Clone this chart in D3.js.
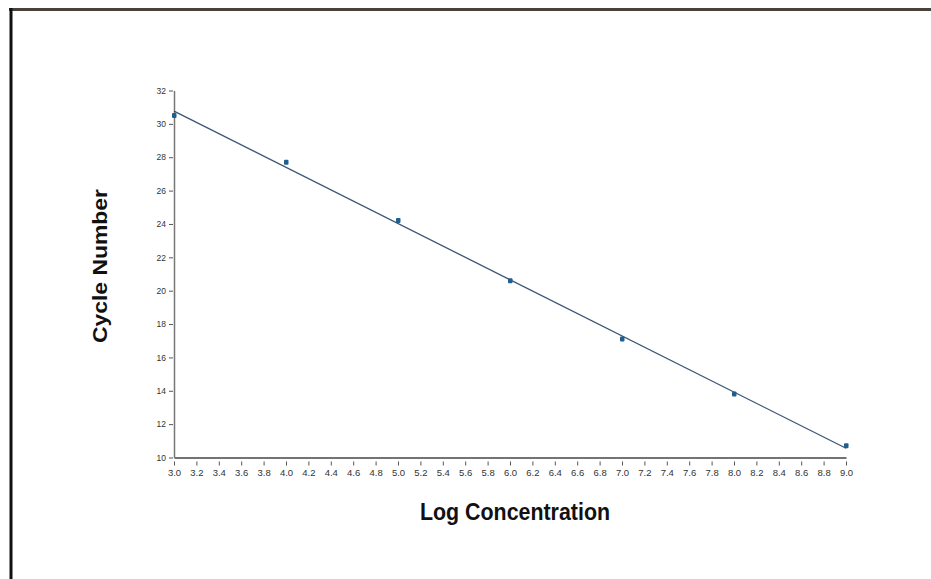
<!DOCTYPE html>
<html>
<head>
<meta charset="utf-8">
<script src="https://cdn.jsdelivr.net/npm/d3@7"></script>
<style>
  body { margin: 0; background: #fff; }
  svg { display: block; }
</style>
</head>
<body>
<div id="chart"></div>
<script>
// values
const logConc = [3.0, 4.0, 5.0, 6.0, 7.0, 8.0, 9.0];
const cycleNum = [30.5, 27.7, 24.2, 20.6, 17.1, 13.8, 10.7];
const xTicks = d3.range(30, 91, 2).map(d => d / 10);
const yTicks = [10, 12, 14, 16, 18, 20, 22, 24, 26, 28, 30, 32];

function drawChart() {
    const svg = d3.select("#chart")
        .append("svg")
        .attr("width", 931)
        .attr("height", 579);

    // page frame (top + left edges)
    svg.append("line")
        .attr("x1", 9).attr("x2", 931)
        .attr("y1", 9.5).attr("y2", 9.5)
        .attr("stroke", "#4a4238")
        .attr("stroke-width", 3);
    svg.append("line")
        .attr("x1", 11).attr("x2", 11)
        .attr("y1", 8).attr("y2", 579)
        .attr("stroke", "#111")
        .attr("stroke-width", 3);

    const x = d3.scaleLinear()
        .domain([3.0, 9.0])
        .range([174, 846]);

    const y = d3.scaleLinear()
        .domain([10, 32])
        .range([457.5, 90.5]);

    // x axis
    const xAxis = svg.append("g")
        .attr("transform", "translate(0,457.5)")
        .call(d3.axisBottom(x)
            .tickValues(xTicks)
            .tickFormat(d3.format(".1f"))
            .tickSizeInner(4)
            .tickSizeOuter(0)
            .tickPadding(8));
    xAxis.select(".domain").attr("stroke", "#444").attr("stroke-width", 1.5);
    xAxis.selectAll(".tick line").attr("stroke", "#555").attr("transform", "translate(0,4)");
    xAxis.selectAll("text")
        .style("font-family", "Liberation Sans, Arial, sans-serif")
        .style("font-size", "9.5px")
        .attr("fill", "#333");

    // y axis
    const yAxis = svg.append("g")
        .attr("transform", "translate(174,0)")
        .call(d3.axisLeft(y)
            .tickValues(yTicks)
            .tickSizeInner(4)
            .tickSizeOuter(0)
            .tickPadding(4));
    yAxis.select(".domain").attr("stroke", "#777").attr("stroke-width", 1.5);
    yAxis.selectAll(".tick line").attr("stroke", "#555").attr("transform", "translate(-1,0)");
    yAxis.selectAll("text")
        .style("font-family", "Liberation Sans, Arial, sans-serif")
        .style("font-size", "8.5px")
        .attr("fill", "#333");

    // least squares fit line through the points
    const mx = d3.mean(logConc), my = d3.mean(cycleNum);
    const slope = d3.sum(logConc, (v, i) => (v - mx) * (cycleNum[i] - my)) /
        d3.sum(logConc, v => (v - mx) * (v - mx));
    const fit = v => my + slope * (v - mx);

    svg.append("line")
        .attr("x1", x(3.0)).attr("y1", y(fit(3.0)))
        .attr("x2", x(9.0)).attr("y2", y(fit(9.0)))
        .attr("stroke", "#3b5676")
        .attr("stroke-width", 1.3);

    svg.selectAll(".dot")
        .data(logConc)
        .enter()
        .append("rect")
        .attr("class", "dot")
        .attr("x", d => x(d) - 2)
        .attr("y", (d, i) => y(cycleNum[i]) - 2.5)
        .attr("width", 4.5)
        .attr("height", 5)
        .attr("rx", 1)
        .attr("fill", "#1f5f8f");

    // axis titles (condensed look via textLength)
    svg.append("text")
        .attr("transform", "translate(107,266) rotate(-90)")
        .attr("x", -77)
        .attr("textLength", 154)
        .attr("lengthAdjust", "spacingAndGlyphs")
        .style("font-family", "Liberation Sans, Arial, sans-serif")
        .style("font-weight", "bold")
        .style("font-size", "20px")
        .attr("fill", "#111")
        .text("Cycle Number");

    svg.append("text")
        .attr("x", 420)
        .attr("y", 520)
        .attr("textLength", 190)
        .attr("lengthAdjust", "spacingAndGlyphs")
        .style("font-family", "Liberation Sans, Arial, sans-serif")
        .style("font-weight", "bold")
        .style("font-size", "23px")
        .attr("fill", "#111")
        .text("Log Concentration");
}

drawChart();
</script>
</body>
</html>
